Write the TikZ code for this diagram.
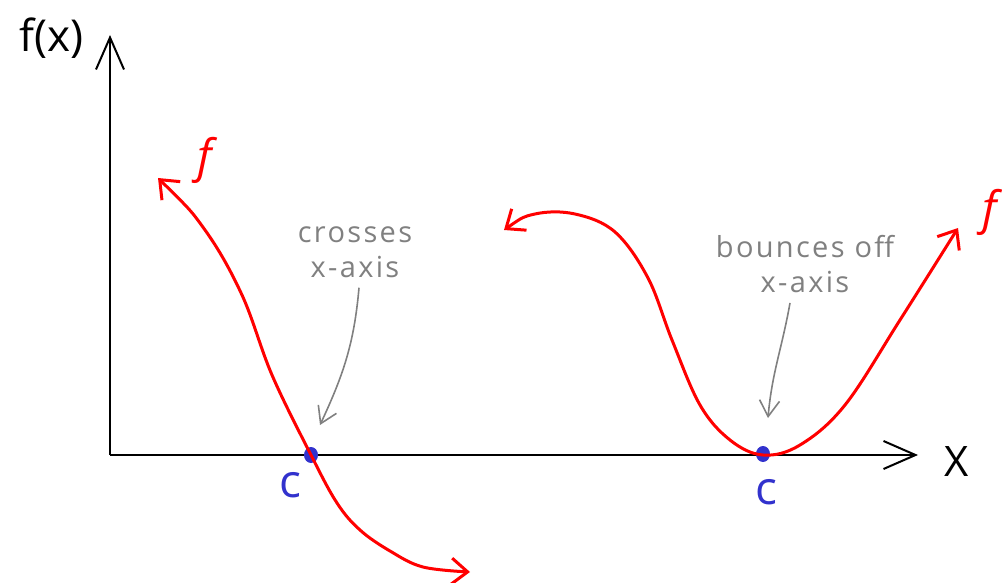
\documentclass[tikz,border=0pt]{standalone}
\usepackage{fontspec}
\setmainfont{Open Sans}
\usetikzlibrary{arrows.meta, positioning, shapes.geometric}
\definecolor{dotblue}{RGB}{50,50,205}
\definecolor{notegray}{RGB}{128,128,128}

\begin{document}
\begin{tikzpicture}[x=1pt, y=-1pt,
            every node/.style={inner sep=0pt},
            % Estilos
            axis/.style={line width=2pt, -{Straight Barb[length=32pt, width=28pt, line width=2pt]}},
            curve/.style={red, line width=3pt, line cap=round,
                {Straight Barb[length=16pt, width=26pt, line width=3pt]}-{Straight Barb[length=16pt, width=26pt, line width=3pt]}},
            pointer/.style={notegray, line width=1.6pt, -{Straight Barb[length=16pt, width=20pt, line width=1.6pt]}},
            note/.style={text=notegray, align=center, font=\fontsize{29}{35}\selectfont\addfontfeatures{LetterSpace=8}},
            dot/.style={ellipse, fill=dotblue, minimum width=14pt, minimum height=16pt},
            clabel/.style={text=dotblue, font=\fontsize{46}{46}\selectfont},
            flabel/.style={text=red, font=\fontsize{46}{46}\selectfont\itshape}
        ]
            \useasboundingbox (0,0) rectangle (1002,583);

            % Ejes
            \coordinate (O) at (110,455);
            \coordinate (ytop) at (110,35);
            \coordinate (xend) at (918,455);
            \draw [axis] (O) -- (ytop);
            \draw [axis] (O) -- (xend);
            \node (fx) at (52,38) {\fontsize{44}{44}\selectfont f(x)};
            \node (xlbl) at (957,462) {\fontsize{42}{42}\selectfont X};

            % Raices
            \node (c1) [dot] at (311,455) {};
            \node (c2) [dot] at (763,454) {};
            \node (c1lbl) [clabel] at (290,485) {c};
            \node (c2lbl) [clabel] at (766,492) {c};

            % Curvas de f
            \draw [curve] plot [smooth, tension=0.6] coordinates
                {(158,178) (205,230) (242,295) (272,375) (311,455) (337,503) (360,530) (390,551) (423,567) (470,572)};
            \draw [curve] plot [smooth, tension=0.6] coordinates
                {(504,230) (535,214) (575,214) (615,232) (648,278) (672,340) (700,405) (730,440) (763,455) (800,445) (845,405) (900,320) (958,228)};
            \node (f1) [flabel] at (205,160) {f};
            \node (f2) [flabel] at (990,212) {f};

            % Notas
            \node (cross) [note] at (355,252) {crosses\\x-axis};
            \node (bounce) [note] at (805,264) {bounces off\\x-axis};
            \coordinate (crossTip) at (320,425);
            \coordinate (bounceTip) at (768,418);
            \draw [pointer] (cross.south) ++(4,10) to[out=-95, in=65] (crossTip);
            \draw [pointer] (bounce.south) ++(-15,10) to[out=-100, in=85] (bounceTip);
        \end{tikzpicture}
\end{document}
